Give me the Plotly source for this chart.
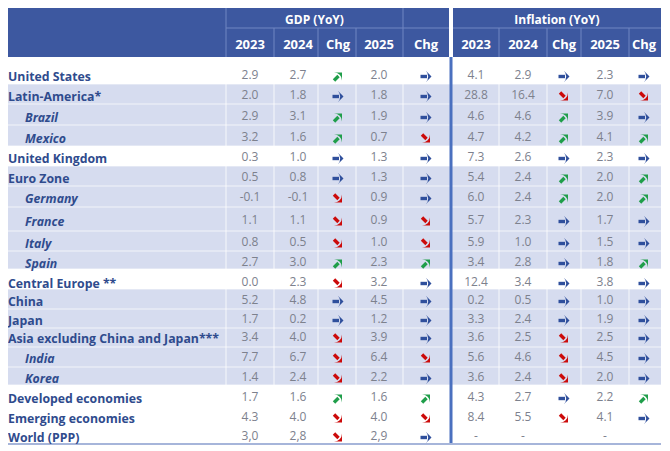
import plotly.graph_objects as go

# ---------------- data ----------------
regions = ["United States", "Latin-America*", "Brazil", "Mexico", "United Kingdom",
           "Euro Zone", "Germany", "France", "Italy", "Spain", "Central Europe **",
           "China", "Japan", "Asia excluding China and Japan***", "India", "Korea",
           "Developed economies", "Emerging economies", "World (PPP)"]
is_sub = [False, False, True, True, False, False, True, True, True, True, False,
          False, False, False, True, True, False, False, False]
shaded = [False, True, True, True, False, True, True, True, True, True, False,
          True, True, True, True, True, False, False, False]

gdp_2023 = ["2.9", "2.0", "2.9", "3.2", "0.3", "0.5", "-0.1", "1.1", "0.8", "2.7", "0.0",
            "5.2", "1.7", "3.4", "7.7", "1.4", "1.7", "4.3", "3,0"]
gdp_2024 = ["2.7", "1.8", "3.1", "1.6", "1.0", "0.8", "-0.1", "1.1", "0.5", "3.0", "2.3",
            "4.8", "0.2", "4.0", "6.7", "2.4", "1.6", "4.0", "2,8"]
gdp_chg_2024 = ["up", "right", "up", "up", "right", "right", "down", "down", "down", "up", "down",
                "right", "right", "down", "down", "down", "up", "down", "down"]
gdp_2025 = ["2.0", "1.8", "1.9", "0.7", "1.3", "1.3", "0.9", "0.9", "1.0", "2.3", "3.2",
            "4.5", "1.2", "3.9", "6.4", "2.2", "1.6", "4.0", "2,9"]
gdp_chg_2025 = ["right", "right", "right", "down", "right", "right", "right", "down", "down", "up", "right",
                "right", "right", "right", "down", "right", "up", "down", "right"]
inf_2023 = ["4.1", "28.8", "4.6", "4.7", "7.3", "5.4", "6.0", "5.7", "5.9", "3.4", "12.4",
            "0.2", "3.3", "3.6", "5.6", "3.6", "4.3", "8.4", "-"]
inf_2024 = ["2.9", "16.4", "4.6", "4.2", "2.6", "2.4", "2.4", "2.3", "1.0", "2.8", "3.4",
            "0.5", "2.4", "2.5", "4.6", "2.4", "2.7", "5.5", "-"]
inf_chg_2024 = ["right", "down", "up", "up", "right", "up", "up", "right", "right", "right", "right",
                "right", "right", "down", "down", "down", "right", "down", ""]
inf_2025 = ["2.3", "7.0", "3.9", "4.1", "2.3", "2.0", "2.0", "1.7", "1.5", "1.8", "3.8",
            "1.0", "1.9", "2.5", "4.5", "2.0", "2.2", "4.1", "-"]
inf_chg_2025 = ["right", "down", "right", "up", "right", "up", "up", "right", "right", "up", "right",
                "right", "right", "right", "right", "right", "up", "right", ""]

group_titles = ["GDP (YoY)", "Inflation (YoY)"]
col_titles = ["2023", "2024", "Chg", "2025", "Chg", "2023", "2024", "Chg", "2025", "Chg"]

# ---------------- layout constants ----------------
FONT = "Open Sans"
HEADER_BG = "#3d58a0"
HEADER_LINE = "#7186c2"
SHADE = "#d6dcef"
LABEL_C = "#2f4b8d"
NUM_C = "#7d818d"
ARROW_C = {"up": "#1f9e4a", "down": "#cc0a0a", "right": "#2f4f9c"}
# arrow geometry relative to the cell centre: tail (dx, dy), shaft end (dx, dy), tip (dx, dy), head angle
ARROW_GEOM = {
    "right": ((-5.5, 0), (1.0, 0), (5.5, 0), 90),
    "up": ((-4.0, 4.0), (0.5, -0.5), (4.0, -4.0), 45),
    "down": ((-4.0, -4.0), (0.5, 0.5), (4.0, 4.0), 135),
}
HEAD_SIZE = 8

TXT_DY = 3  # plotly draws "middle" text slightly above the anchor
row_y = [75, 95, 116, 137, 157, 177, 197, 220, 242, 262, 282, 300, 319, 337, 357, 377, 397, 417, 436]
row_edges = [57, 84, 104, 125, 146, 166, 186, 207, 231, 251, 269, 289, 309, 328, 347, 367, 385, 406, 426, 444]
col_x = [250, 298, 338, 379, 426, 476, 523, 564, 605, 644]
col_edges = [226, 274, 318, 356, 403, 449, 453, 499, 547, 581, 629, 661]
LEFT, RIGHT = 8, 661
HDR_TOP, HDR_MID, HDR_BOT = 7, 28, 57
SEP_X = 451
BOTTOM = 444

fig = go.Figure()
shapes = []

def rect(x0, x1, y0, y1, color):
    shapes.append(dict(type="rect", xref="x", yref="y", x0=x0, x1=x1, y0=y0, y1=y1,
                       fillcolor=color, line=dict(width=0), layer="below"))

def line(x0, x1, y0, y1, color, width=1):
    shapes.append(dict(type="line", xref="x", yref="y", x0=x0, x1=x1, y0=y0, y1=y1,
                       line=dict(color=color, width=width), layer="below"))

# shaded rows
for i, s in enumerate(shaded):
    if s:
        rect(LEFT, RIGHT, row_edges[i], row_edges[i + 1], SHADE)
# faint white grid in body
for i in range(1, len(row_edges) - 1):
    line(LEFT, RIGHT, row_edges[i], row_edges[i], "rgba(255,255,255,0.7)")
for xe in col_edges[:-1]:
    if xe in (449, 453):
        continue
    line(xe, xe, HDR_BOT, BOTTOM, "rgba(255,255,255,0.8)")

# header blocks
rect(LEFT, 449, HDR_TOP, HDR_BOT, HEADER_BG)
rect(453, RIGHT, HDR_TOP, HDR_BOT, HEADER_BG)
line(226, 449, HDR_MID, HDR_MID, HEADER_LINE)
line(453, RIGHT, HDR_MID, HDR_MID, HEADER_LINE)
for xe in (226, 403):
    line(xe, xe, HDR_TOP, HDR_BOT, HEADER_LINE)
for xe in (274, 318, 356, 499, 547, 581, 629):
    line(xe, xe, HDR_MID, HDR_BOT, HEADER_LINE)
# thick separator and bottom line
line(SEP_X, SEP_X, HDR_BOT, BOTTOM + 1, "#4a70bf", 3)
line(LEFT, RIGHT, BOTTOM, BOTTOM, "#a6b5da", 2)

# header texts
fig.add_trace(go.Scatter(x=[(226 + 403) / 2, (453 + RIGHT) / 2], y=[18 + TXT_DY] * 2, mode="text",
                         text=group_titles, textposition="middle center",
                         textfont=dict(family=FONT, size=12, color="white", weight="bold"),
                         hoverinfo="skip", showlegend=False))
fig.add_trace(go.Scatter(x=col_x, y=[43 + TXT_DY] * len(col_x), mode="text", text=col_titles,
                         textposition="middle center",
                         textfont=dict(family=FONT, size=13, color="white", weight="bold"),
                         hoverinfo="skip", showlegend=False))

# row labels
main_idx = [i for i, s in enumerate(is_sub) if not s]
sub_idx = [i for i, s in enumerate(is_sub) if s]
fig.add_trace(go.Scatter(x=[LEFT] * len(main_idx), y=[row_y[i] + TXT_DY for i in main_idx], mode="text",
                         text=[regions[i] for i in main_idx], textposition="middle right",
                         textfont=dict(family=FONT, size=12.3, color=LABEL_C, weight="bold"),
                         hoverinfo="skip", showlegend=False))
fig.add_trace(go.Scatter(x=[LEFT + 17] * len(sub_idx), y=[row_y[i] + TXT_DY for i in sub_idx], mode="text",
                         text=[regions[i] for i in sub_idx], textposition="middle right",
                         textfont=dict(family=FONT, size=12.3, color=LABEL_C, weight="bold", style="italic"),
                         hoverinfo="skip", showlegend=False))

# numbers
value_cols = [(0, gdp_2023), (1, gdp_2024), (3, gdp_2025), (5, inf_2023), (6, inf_2024), (8, inf_2025)]
for ci, vals in value_cols:
    fig.add_trace(go.Scatter(x=[col_x[ci]] * len(vals), y=[y - 2.5 + TXT_DY for y in row_y], mode="text",
                             text=vals, textposition="middle center",
                             textfont=dict(family=FONT, size=12, color=NUM_C),
                             hoverinfo="skip", showlegend=False))

# change arrows: thick shaft + arrow head, per direction
arrow_cols = [(2, gdp_chg_2024), (4, gdp_chg_2025), (7, inf_chg_2024), (9, inf_chg_2025)]
for direction, color in ARROW_C.items():
    (tx0, ty0), (sx1, sy1), (hx, hy), ang = ARROW_GEOM[direction]
    shaft_x, shaft_y, head_x, head_y = [], [], [], []
    for ci, vals in arrow_cols:
        for ri, v in enumerate(vals):
            if v != direction:
                continue
            cx, cy = col_x[ci], row_y[ri] + 1.5
            shaft_x += [cx + tx0, cx + sx1, None]
            shaft_y += [cy + ty0, cy + sy1, None]
            head_x.append(cx + hx)
            head_y.append(cy + hy)
    fig.add_trace(go.Scatter(x=shaft_x, y=shaft_y, mode="lines",
                             line=dict(color=color, width=3.4), connectgaps=False,
                             hoverinfo="skip", showlegend=False))
    fig.add_trace(go.Scatter(x=head_x, y=head_y, mode="markers",
                             marker=dict(symbol="arrow-wide", size=HEAD_SIZE, angle=ang,
                                         color=color, line=dict(width=0)),
                             hoverinfo="skip", showlegend=False))

# page body has an 8px margin: the figure starts at (8, 8) on screen
fig.update_layout(
    width=662, height=443, margin=dict(l=0, r=0, t=0, b=0),
    paper_bgcolor="white", plot_bgcolor="white", shapes=shapes,
    xaxis=dict(range=[8, 670], visible=False, fixedrange=True),
    yaxis=dict(range=[451, 8], visible=False, fixedrange=True),
    showlegend=False,
)
fig.write_html("out.html")
